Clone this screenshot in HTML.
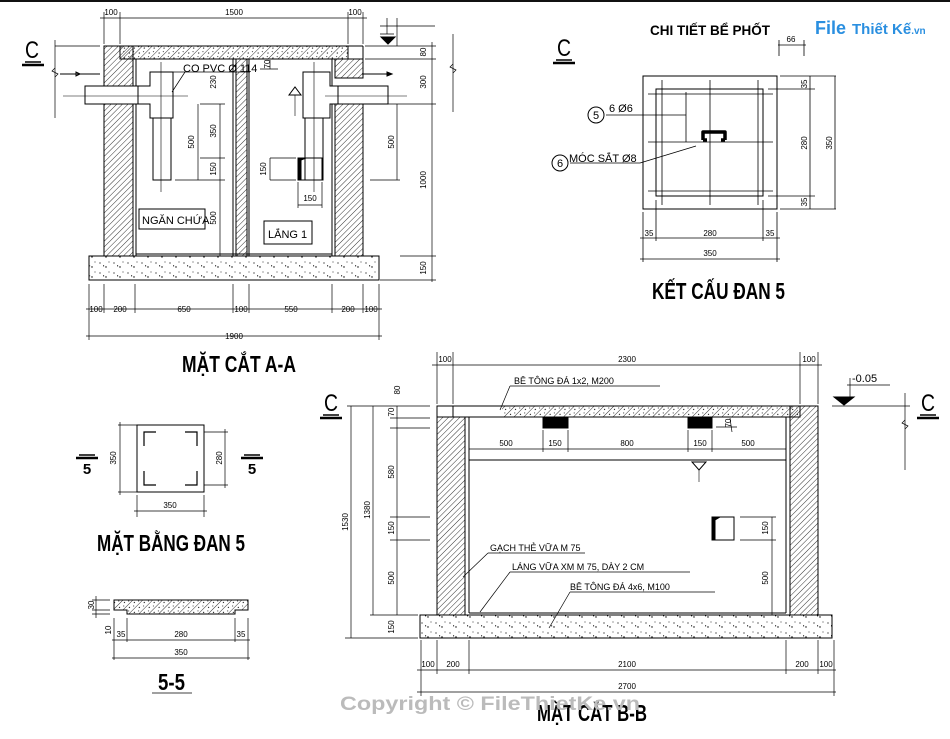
<!DOCTYPE html>
<html><head><meta charset="utf-8"><style>
html,body{margin:0;padding:0;background:#fff}
svg{display:block}
text{font-family:"Liberation Sans Narrow","Liberation Sans",sans-serif;fill:#000}
.d{font-size:8px}
.t{font-size:11px}
.T{font-size:23px;font-weight:bold}
</style></head><body>
<svg width="950" height="739" viewBox="0 0 950 739" xmlns="http://www.w3.org/2000/svg">
<defs>
<pattern id="h" width="4" height="4" patternUnits="userSpaceOnUse" patternTransform="rotate(45)"><line x1="0" y1="0" x2="0" y2="4" stroke="#000" stroke-width="0.8"/></pattern>
<pattern id="hc" width="7" height="7" patternUnits="userSpaceOnUse" patternTransform="rotate(45)"><line x1="0" y1="0" x2="0" y2="7" stroke="#000" stroke-width="0.8"/><circle cx="3" cy="2" r="0.6"/><circle cx="5" cy="5" r="0.5"/></pattern>
<pattern id="c" width="14" height="10" patternUnits="userSpaceOnUse"><circle cx="2" cy="3" r="0.6"/><circle cx="8" cy="7" r="0.7"/><circle cx="11" cy="2" r="0.5"/><path d="M5 5l1.5 1l-1.5 0.5z"/></pattern>
</defs>
<rect x="0" y="0" width="950" height="2" fill="#111"/>
<g stroke="#000" stroke-width="1" fill="none">
<rect x="120" y="46" width="228" height="13" fill="url(#hc)"/>
<line x1="104" y1="46" x2="363" y2="46"/>
<rect x="104" y="46" width="29" height="210" fill="url(#h)"/>
<rect x="133" y="59" width="3" height="197"/>
<rect x="236" y="59" width="11" height="197" fill="url(#h)"/>
<line x1="233" y1="59" x2="233" y2="256"/><line x1="249" y1="59" x2="249" y2="256"/>
<rect x="335" y="103" width="28" height="153" fill="url(#h)"/>
<rect x="335" y="59" width="28" height="19" fill="url(#h)"/>
<line x1="363" y1="46" x2="363" y2="78"/>
<line x1="332" y1="59" x2="332" y2="256"/>
<line x1="136" y1="59" x2="332" y2="59"/>
<line x1="136" y1="254" x2="332" y2="254"/>
<rect x="89" y="256" width="290" height="24" fill="url(#c)"/>
<rect x="85" y="86" width="53" height="18" fill="#fff"/>
<path d="M138 86h12v-14h23v46h-23v-14h-12z" fill="#fff"/>
<rect x="153" y="118" width="18" height="62" fill="#fff"/>
<line x1="63" y1="96" x2="188" y2="96" stroke-width="0.6"/><line x1="161" y1="62" x2="161" y2="192" stroke-width="0.6"/>
<rect x="338" y="86" width="50" height="18" fill="#fff"/>
<path d="M338 86h-8v-14h-27v46h27v-14h8z" fill="#fff"/>
<rect x="305" y="118" width="18" height="62" fill="#fff"/>
<line x1="325" y1="96" x2="407" y2="96" stroke-width="0.6"/><line x1="314" y1="62" x2="314" y2="192" stroke-width="0.6"/>
<rect x="298" y="158" width="24" height="22"/>
<path d="M298 158v22h3v-20l5 -2z" fill="#000"/>
<path d="M78 74h22M80 74l-4 -2v4z" />
<path d="M362 74h30" /><path d="M392 74l-5 -2v4z" fill="#000"/>
<rect x="139" y="209" width="66" height="20"/>
<rect x="264" y="221" width="48" height="23"/>
<g stroke-width="0.7">
<line x1="100" y1="18" x2="367" y2="18"/>
<line x1="104" y1="12" x2="104" y2="44"/><line x1="120" y1="12" x2="120" y2="44"/><line x1="348" y1="12" x2="348" y2="44"/><line x1="363" y1="12" x2="363" y2="44"/>
<line x1="432" y1="42" x2="432" y2="282"/>
<line x1="365" y1="46" x2="436" y2="46"/><line x1="365" y1="59" x2="436" y2="59"/><line x1="370" y1="104" x2="436" y2="104"/><line x1="400" y1="256" x2="436" y2="256"/><line x1="380" y1="280" x2="436" y2="280"/>
<line x1="397" y1="104" x2="397" y2="180"/><line x1="370" y1="180" x2="400" y2="180"/>
<line x1="453" y1="34" x2="453" y2="112"/><path d="M453 64l-3 3 6 3-3 3"/>
<line x1="380" y1="26" x2="435" y2="26"/><line x1="397" y1="18" x2="397" y2="46"/>
<line x1="220" y1="104" x2="220" y2="256"/><line x1="200" y1="104" x2="225" y2="104"/><line x1="200" y1="158" x2="225" y2="158"/><line x1="200" y1="180" x2="225" y2="180"/>
<line x1="198" y1="104" x2="198" y2="180"/><line x1="175" y1="180" x2="200" y2="180"/>
<line x1="270" y1="158" x2="270" y2="180"/><line x1="270" y1="158" x2="296" y2="158"/><line x1="270" y1="180" x2="296" y2="180"/>
<line x1="298" y1="205" x2="322" y2="205"/><line x1="298" y1="182" x2="298" y2="208"/><line x1="322" y1="182" x2="322" y2="208"/>
<line x1="270" y1="60" x2="270" y2="69"/><line x1="260" y1="69" x2="278" y2="69"/>
<line x1="55" y1="46" x2="100" y2="46"/><line x1="55" y1="40" x2="55" y2="118"/><path d="M55 68l-3 3 6 3-3 3"/>
<line x1="86" y1="309" x2="382" y2="309"/><line x1="86" y1="336" x2="382" y2="336"/>
<line x1="89" y1="284" x2="89" y2="340"/><line x1="104" y1="284" x2="104" y2="313"/><line x1="135" y1="284" x2="135" y2="313"/><line x1="233" y1="284" x2="233" y2="313"/><line x1="249" y1="284" x2="249" y2="313"/><line x1="332" y1="284" x2="332" y2="313"/><line x1="363" y1="284" x2="363" y2="313"/><line x1="379" y1="284" x2="379" y2="340"/>
<line x1="172" y1="72" x2="250" y2="72"/><line x1="172" y1="92" x2="185" y2="72"/>
</g>
<path d="M380 34h14M387 34v-16" stroke-width="0.7"/>
<path d="M381 37h14l-7 7z" fill="#000"/>
<path d="M289 95h12l-6 -8z"/><line x1="295" y1="95" x2="295" y2="116" stroke-width="0.6"/>
<rect x="643" y="76" width="134" height="133"/>
<rect x="656" y="89" width="107" height="107"/>
<g stroke-width="0.8">
<line x1="662" y1="80" x2="662" y2="205"/><line x1="710" y1="80" x2="710" y2="205"/><line x1="758" y1="80" x2="758" y2="205"/>
<line x1="648" y1="94" x2="773" y2="94"/><line x1="648" y1="142" x2="773" y2="142"/><line x1="648" y1="191" x2="773" y2="191"/>
<line x1="606" y1="115" x2="686" y2="115"/><line x1="686" y1="92" x2="686" y2="142"/>
<line x1="570" y1="163" x2="640" y2="163"/><line x1="640" y1="163" x2="696" y2="146"/>
<line x1="780" y1="76" x2="836" y2="76"/><line x1="768" y1="89" x2="815" y2="89"/><line x1="768" y1="196" x2="815" y2="196"/><line x1="780" y1="209" x2="836" y2="209"/>
<line x1="810" y1="76" x2="810" y2="209"/><line x1="835" y1="76" x2="835" y2="209"/>
<line x1="643" y1="212" x2="643" y2="262"/><line x1="656" y1="200" x2="656" y2="241"/><line x1="763" y1="200" x2="763" y2="241"/><line x1="777" y1="212" x2="777" y2="262"/>
<line x1="640" y1="238" x2="780" y2="238"/><line x1="640" y1="259" x2="780" y2="259"/>
<line x1="778" y1="45" x2="806" y2="45"/><line x1="779" y1="40" x2="779" y2="56"/><line x1="804" y1="40" x2="804" y2="56"/>
</g>
<path d="M703 140v-8h22v8M703 140h4M725 140h-4" stroke-width="3.5" stroke-linejoin="round"/>
<circle cx="596" cy="115" r="8"/><circle cx="560" cy="163" r="8"/>
<rect x="137" y="425" width="67" height="67"/>
<path d="M144 446v-14h12M185 432h12v14M144 471v14h12M185 485h12v-14" stroke-width="1.2"/>
<g stroke-width="0.7">
<line x1="118" y1="425" x2="137" y2="425"/><line x1="118" y1="492" x2="137" y2="492"/><line x1="120" y1="422" x2="120" y2="495"/>
<line x1="204" y1="432" x2="228" y2="432"/><line x1="204" y1="485" x2="228" y2="485"/><line x1="225" y1="429" x2="225" y2="488"/>
<line x1="137" y1="495" x2="137" y2="517"/><line x1="204" y1="495" x2="204" y2="517"/><line x1="134" y1="511" x2="207" y2="511"/>
</g>
<path d="M76 458h22" stroke-width="2.5"/><path d="M79 455h16" stroke-width="1.5"/>
<path d="M241 458h22" stroke-width="2.5"/><path d="M244 455h16" stroke-width="1.5"/>
<path d="M114 600h134v10h-13v4h-108v-4h-13z" fill="url(#hc)"/>
<g stroke-width="0.7">
<line x1="92" y1="600" x2="110" y2="600"/><line x1="92" y1="610" x2="110" y2="610"/><line x1="92" y1="614" x2="110" y2="614"/><line x1="96" y1="596" x2="96" y2="618"/>
<line x1="114" y1="618" x2="114" y2="660"/><line x1="127" y1="618" x2="127" y2="642"/><line x1="235" y1="618" x2="235" y2="642"/><line x1="248" y1="618" x2="248" y2="660"/>
<line x1="112" y1="640" x2="250" y2="640"/><line x1="112" y1="658" x2="250" y2="658"/>
</g>
<line x1="152" y1="693" x2="192" y2="693" stroke-width="0.8"/>
<line x1="437" y1="406" x2="818" y2="406"/>
<rect x="437" y="406" width="16" height="11" fill="#fff"/>
<rect x="453" y="406" width="347" height="11"/>
<rect x="502" y="406" width="296" height="11" fill="url(#hc)" stroke="none"/>
<rect x="437" y="417" width="28" height="198" fill="url(#h)"/>
<rect x="790" y="406" width="28" height="209" fill="url(#h)"/>
<line x1="469" y1="417" x2="469" y2="613"/><line x1="786" y1="417" x2="786" y2="613"/>
<line x1="469" y1="613" x2="786" y2="613"/>
<line x1="469" y1="460" x2="786" y2="460"/>
<rect x="420" y="615" width="412" height="23" fill="url(#c)"/>
<path d="M543 418h25v10h-25z M688 418h24v10h-24z" fill="#000"/>
<rect x="712" y="517" width="22" height="23"/>
<path d="M712 517v23h3v-20l5 -3z" fill="#000"/>
<path d="M692 462h14l-7 8z"/><line x1="699" y1="470" x2="699" y2="482" stroke-width="0.6"/>
<g stroke-width="0.7">
<line x1="437" y1="352" x2="437" y2="404"/><line x1="453" y1="352" x2="453" y2="404"/><line x1="800" y1="352" x2="800" y2="404"/><line x1="818" y1="352" x2="818" y2="404"/>
<line x1="432" y1="365" x2="822" y2="365"/>
<line x1="469" y1="449" x2="786" y2="449"/>
<line x1="543" y1="430" x2="543" y2="452"/><line x1="568" y1="430" x2="568" y2="452"/><line x1="688" y1="430" x2="688" y2="452"/><line x1="712" y1="430" x2="712" y2="452"/>
<line x1="716" y1="427" x2="737" y2="427"/><line x1="730" y1="418" x2="732" y2="432"/>
<line x1="347" y1="406" x2="430" y2="406"/>
<line x1="351" y1="406" x2="351" y2="638"/><line x1="373" y1="406" x2="373" y2="615"/><line x1="397" y1="406" x2="397" y2="615"/>
<line x1="390" y1="418" x2="430" y2="418"/><line x1="390" y1="428" x2="430" y2="428"/><line x1="390" y1="517" x2="430" y2="517"/><line x1="390" y1="540" x2="430" y2="540"/>
<line x1="370" y1="615" x2="418" y2="615"/><line x1="345" y1="638" x2="418" y2="638"/>
<line x1="772" y1="517" x2="772" y2="615"/><line x1="740" y1="517" x2="776" y2="517"/><line x1="740" y1="540" x2="776" y2="540"/>
<line x1="417" y1="670" x2="836" y2="670"/><line x1="417" y1="692" x2="836" y2="692"/>
<line x1="421" y1="640" x2="421" y2="696"/><line x1="437" y1="640" x2="437" y2="674"/><line x1="469" y1="640" x2="469" y2="674"/><line x1="786" y1="640" x2="786" y2="674"/><line x1="818" y1="640" x2="818" y2="674"/><line x1="834" y1="640" x2="834" y2="696"/>
<line x1="510" y1="386" x2="660" y2="386"/><line x1="510" y1="386" x2="500" y2="410"/>
<line x1="488" y1="553" x2="585" y2="553"/><line x1="488" y1="553" x2="463" y2="577"/>
<line x1="510" y1="572" x2="690" y2="572"/><line x1="510" y1="572" x2="480" y2="612"/>
<line x1="570" y1="592" x2="715" y2="592"/><line x1="570" y1="592" x2="549" y2="628"/>
<line x1="832" y1="406" x2="910" y2="406"/><line x1="905" y1="393" x2="905" y2="470"/><path d="M905 420l-3 3 6 3-3 3"/>
<line x1="847" y1="385" x2="890" y2="385"/><line x1="850" y1="378" x2="850" y2="400"/>
</g>
<path d="M834 397h20l-10 8z" fill="#000"/>
<g stroke-width="2.5"><path d="M22 65h22"/><path d="M553 63h22"/><path d="M320 418h22"/><path d="M917 418h22"/></g>
<g stroke-width="1.5"><path d="M25 62h16"/><path d="M556 60h16"/><path d="M323 415h16"/><path d="M920 415h16"/></g>
<line x1="60" y1="74" x2="100" y2="74"/>
</g>
<g class="d" text-anchor="middle">
<text x="111" y="15">100</text><text x="234" y="15">1500</text><text x="355" y="15">100</text>
<text x="96" y="312">100</text><text x="120" y="312">200</text><text x="184" y="312">650</text><text x="241" y="312">100</text><text x="291" y="312">550</text><text x="348" y="312">200</text><text x="371" y="312">100</text>
<text x="234" y="339">1900</text>
<text x="310" y="201">150</text>
<text x="710" y="236">280</text><text x="649" y="236">35</text><text x="770" y="236">35</text><text x="710" y="256">350</text>
<text x="791" y="42">66</text>
<text x="170" y="508">350</text>
<text x="181" y="637">280</text><text x="121" y="637">35</text><text x="241" y="637">35</text><text x="181" y="655">350</text>
<text x="445" y="362">100</text><text x="627" y="362">2300</text><text x="809" y="362">100</text>
<text x="506" y="446">500</text><text x="555" y="446">150</text><text x="627" y="446">800</text><text x="700" y="446">150</text><text x="748" y="446">500</text>
<text x="428" y="667">100</text><text x="453" y="667">200</text><text x="627" y="667">2100</text><text x="802" y="667">200</text><text x="826" y="667">100</text>
<text x="627" y="689">2700</text>
</g>
<g class="d" text-anchor="middle">
<text transform="translate(426,52) rotate(-90)">80</text>
<text transform="translate(426,82) rotate(-90)">300</text>
<text transform="translate(426,180) rotate(-90)">1000</text>
<text transform="translate(426,268) rotate(-90)">150</text>
<text transform="translate(394,142) rotate(-90)">500</text>
<text transform="translate(194,142) rotate(-90)">500</text>
<text transform="translate(216,82) rotate(-90)">230</text>
<text transform="translate(216,131) rotate(-90)">350</text>
<text transform="translate(216,169) rotate(-90)">150</text>
<text transform="translate(216,218) rotate(-90)">500</text>
<text transform="translate(266,169) rotate(-90)">150</text>
<text transform="translate(270,64) rotate(-90)">70</text>
<text transform="translate(807,84) rotate(-90)">35</text>
<text transform="translate(807,143) rotate(-90)">280</text>
<text transform="translate(807,202) rotate(-90)">35</text>
<text transform="translate(832,143) rotate(-90)">350</text>
<text transform="translate(116,458) rotate(-90)">350</text>
<text transform="translate(222,458) rotate(-90)">280</text>
<text transform="translate(94,605) rotate(-90)">30</text>
<text transform="translate(111,630) rotate(-90)">10</text>
<text transform="translate(348,522) rotate(-90)">1530</text>
<text transform="translate(370,510) rotate(-90)">1380</text>
<text transform="translate(394,472) rotate(-90)">580</text>
<text transform="translate(394,528) rotate(-90)">150</text>
<text transform="translate(394,578) rotate(-90)">500</text>
<text transform="translate(394,627) rotate(-90)">150</text>
<text transform="translate(394,412) rotate(-90)">70</text>
<text transform="translate(400,390) rotate(-90)">80</text>
<text transform="translate(768,528) rotate(-90)">150</text>
<text transform="translate(768,578) rotate(-90)">500</text>
<text transform="translate(731,423) rotate(-90)">70</text>
</g>
<text x="183" y="72" class="t">CO PVC Ø 114</text>
<text x="142" y="224" class="t">NGĂN CHỨA</text>
<text x="268" y="238" class="t">LẮNG 1</text>
<text x="609" y="112" class="t">6 Ø6</text>
<text x="569" y="162" class="t">MÓC SẮT Ø8</text>
<text x="596" y="119" class="t" text-anchor="middle">5</text>
<text x="560" y="167" class="t" text-anchor="middle">6</text>
<text x="650" y="35" style="font-size:14px;font-weight:bold" textLength="120" lengthAdjust="spacingAndGlyphs">CHI TIẾT BỂ PHỐT</text>
<text x="815" y="34" style="font-size:18px;font-weight:bold;fill:#2a8fe0">File</text>
<text x="852" y="34" style="font-size:15px;font-weight:bold;fill:#2a8fe0">Thiết Kế<tspan style="font-size:10px">.vn</tspan></text>
<text x="514" y="384" style="font-size:9px">BÊ TÔNG ĐÁ 1x2, M200</text>
<text x="490" y="551" style="font-size:9px">GẠCH THẺ VỮA M 75</text>
<text x="512" y="570" style="font-size:9px">LÁNG VỮA XM M 75, DÀY 2 CM</text>
<text x="570" y="590" style="font-size:9px">BÊ TÔNG ĐÁ 4x6, M100</text>
<text x="852" y="382" style="font-size:11px">-0.05</text>
<g style="font-size:24px">
<text x="25" y="58" textLength="14" lengthAdjust="spacingAndGlyphs">C</text><text x="557" y="56" textLength="14" lengthAdjust="spacingAndGlyphs">C</text><text x="324" y="411" textLength="14" lengthAdjust="spacingAndGlyphs">C</text><text x="921" y="411" textLength="14" lengthAdjust="spacingAndGlyphs">C</text>
</g>
<g style="font-size:15px;font-weight:bold" text-anchor="middle"><text x="87" y="474">5</text><text x="252" y="474">5</text></g>
<g class="T">
<text x="182" y="372" textLength="114" lengthAdjust="spacingAndGlyphs">MẶT CẮT A-A</text>
<text x="652" y="299" textLength="133" lengthAdjust="spacingAndGlyphs">KẾT CẤU ĐAN 5</text>
<text x="97" y="551" textLength="148" lengthAdjust="spacingAndGlyphs">MẶT BẰNG ĐAN 5</text>
<text x="158" y="690" textLength="27" lengthAdjust="spacingAndGlyphs">5-5</text>
<text x="537" y="721" textLength="110" lengthAdjust="spacingAndGlyphs">MẶT CẮT B-B</text>
</g>
<text x="340" y="710" style="font-size:19px;font-weight:bold;fill:#bbb;font-family:'Liberation Sans',sans-serif" textLength="300" lengthAdjust="spacingAndGlyphs">Copyright © FileThietKe.vn</text>
</svg>
</body></html>
